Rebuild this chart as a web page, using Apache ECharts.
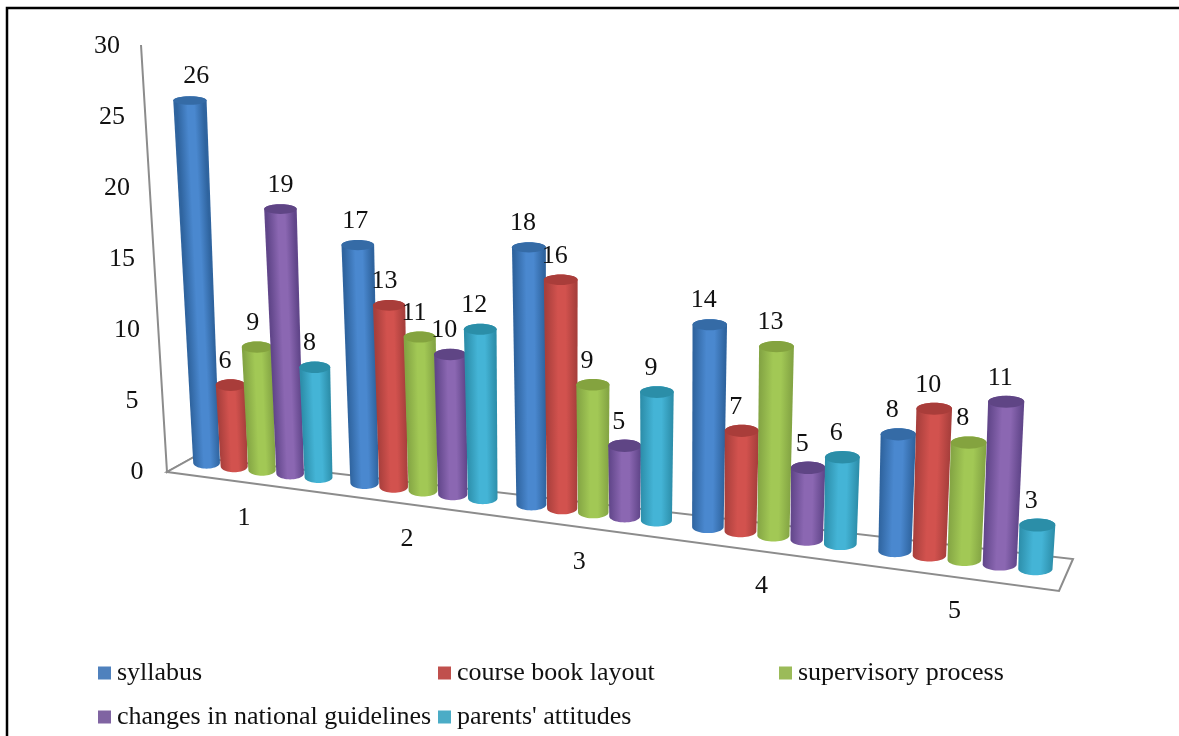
<!DOCTYPE html>
<html>
<head>
<meta charset="utf-8">
<title>Chart</title>
<script src="https://cdn.jsdelivr.net/npm/echarts@6/dist/echarts.min.js"></script>
<style>
html, body { margin: 0; padding: 0; background: #fff; }
#main { width: 1179px; height: 736px; }
</style>
</head>
<body>
<div id="main"></div>
<script>
const categories = ['1', '2', '3', '4', '5']
const tickLabels = [0, 5, 10, 15, 20, 25, 30]
const seriesNames = ['syllabus', 'course book layout', 'supervisory process', 'changes in national guidelines', "parents' attitudes"]
const syllabus = [26, 17, 18, 14, 8]
const courseBook = [6, 13, 16, 7, 10]
const supervisory = [9, 11, 9, 13, 8]
const guidelines = [19, 10, 5, 5, 11]
const parents = [8, 12, 9, 6, 3]
const seriesValues = [syllabus, courseBook, supervisory, guidelines, parents]

// [edge, highlight, cap]
const palette = [
    ['#2f649f', '#4a88cf', '#356ba6'],
    ['#a83f3c', '#d2524e', '#a93d3a'],
    ['#84a544', '#a2c855', '#84a33f'],
    ['#61468a', '#8b67b2', '#5f4585'],
    ['#2d8fab', '#44b4d6', '#2b8ea8']
]
const legendColors = ['#4f81bd', '#c0504d', '#9bbb59', '#8064a2', '#4bacc6']

const FONT = '"Liberation Serif", serif'
const PERSP = 0.0265      // how fast things grow towards the right
const SLOTS = 5.6         // bar slots in one category
const AXIS_COLOR = '#8c8c8c'

// flat grid position -> picture position (the chart is a tilted 3D view)
function project(flatX, flatBase, flatTop, grid) {
    const band = grid.width / categories.length
    const u = (flatX - grid.x) / band
    const x = grid.x + (flatX - grid.x) / (1 - PERSP * u)
    const y = 463 + 0.128 * (x - 208)
    const v = (flatBase - flatTop) / (grid.height / 30)
    const height = (flatBase - flatTop) * (1 + 0.0191 * u) * (0.98 + 0.0016 * v)
    const lean = 0.00155 * (x - 620)
    return { u, v, x, y, topX: x + lean * v, topY: y - height }
}

function ellipsePts(cx, cy, rx, ry, from, to) {
    const pts = []
    for (let i = 0; i <= 24; i++) {
        const a = from + (to - from) * i / 24
        pts.push([cx + rx * Math.cos(a), cy + ry * Math.sin(a)])
    }
    return pts
}

function cylinder(j) {
    return function (params, api) {
        const grid = params.coordSys
        const i = api.value(0)
        const value = api.value(1)
        const band = api.size([1, 0])[0]
        const c = api.coord([i, value])
        const c0 = api.coord([i, 0])
        const p = project(c[0] + (j - 2) / SLOTS * band, c0[1], c[1], grid)

        const w0 = 26.5 + 1.6 * p.u
        const w1 = w0 + 1.5 + value * (0.2 - 0.03 * p.u)
        const ry0 = 5.8 + 0.1 * p.u
        const ry1 = ry0 + 0.5 - 0.08 * value

        const body = ellipsePts(p.x, p.y, w0 / 2, ry0, 0, Math.PI)
            .concat(ellipsePts(p.topX, p.topY, w1 / 2, ry1, Math.PI, 2 * Math.PI))
        const col = palette[j]
        const fill = new echarts.graphic.LinearGradient(
            p.x - w0 / 2, p.y, p.x + w0 / 2, p.y + w0 * (p.topX - p.x) / (p.y - p.topY),
            [
                { offset: 0, color: col[0] },
                { offset: 0.4, color: col[1] },
                { offset: 0.65, color: col[1] },
                { offset: 1, color: col[0] }
            ],
            true
        )
        const labelX = p.topX - 6 + Math.max(0, p.x - p.topX - 3) * 0.9
        return {
            type: 'group',
            children: [
                { type: 'polygon', shape: { points: body }, style: { fill: fill } },
                { type: 'ellipse', shape: { cx: p.topX, cy: p.topY, rx: w1 / 2, ry: ry1 }, style: { fill: col[2] } },
                {
                    type: 'text',
                    z2: 100,
                    style: {
                        x: labelX, y: p.topY - 24, text: String(value),
                        fill: '#111', font: '26px ' + FONT, align: 'center', verticalAlign: 'middle'
                    }
                }
            ]
        }
    }
}

// walls: y axis line, floor outline, tick labels
function frame(params, api) {
    const grid = params.coordSys
    const zero = api.coord([0, 0])[1]
    const children = [
        {
            type: 'polyline',
            shape: { points: [[141, 45], [167, 472], [194, 457]] },
            style: { stroke: AXIS_COLOR, lineWidth: 2, fill: null }
        },
        {
            type: 'polygon',
            shape: { points: [[167, 472], [1059, 591], [1073, 559], [194, 457]] },
            style: { stroke: AXIS_COLOR, lineWidth: 2, fill: '#fff' }
        }
    ]
    tickLabels.forEach(function (v) {
        const dy = (zero - api.coord([0, v])[1]) * 1.044
        children.push({
            type: 'text',
            style: {
                x: 137 - v, y: 472 - dy, text: String(v),
                fill: '#111', font: '26px ' + FONT, align: 'center', verticalAlign: 'middle'
            }
        })
    })
    categories.forEach(function (name, i) {
        const p = project(api.coord([i, 0])[0], zero, zero, grid)
        children.push({
            type: 'text',
            style: {
                x: p.x - 18 + 2 * i, y: 472 + 0.1334 * (p.x - 167) + 33, text: name,
                fill: '#111', font: '26px ' + FONT, align: 'center', verticalAlign: 'middle'
            }
        })
    })
    return { type: 'group', children: children }
}

const legendSpots = [
    { left: 98, top: 660 },
    { left: 438, top: 660 },
    { left: 779, top: 660 },
    { left: 98, top: 704 },
    { left: 438, top: 704 }
]

const chart = echarts.init(document.getElementById('main'))
chart.setOption({
    animation: false,
    backgroundColor: '#fff',
    grid: { left: 184.7, top: 57, width: 763, height: 408 },
    xAxis: { type: 'category', data: categories, show: false },
    yAxis: { type: 'value', min: 0, max: 30, interval: 5, show: false },
    graphic: [{
        // the outer box is cut off on the right and at the bottom
        type: 'polyline',
        shape: { points: [[7, 736], [7, 8], [1179, 8]] },
        style: { stroke: '#000', lineWidth: 2.5, fill: null },
        silent: true
    }],
    legend: seriesNames.map(function (name, j) {
        return {
            data: [name],
            left: legendSpots[j].left,
            top: legendSpots[j].top,
            icon: 'rect',
            itemWidth: 13,
            itemHeight: 13,
            padding: 0,
            selectedMode: false,
            textStyle: { fontFamily: FONT, fontSize: 26, color: '#111', padding: [0, 0, 0, 1] }
        }
    }),
    series: [{
        type: 'custom',
        name: 'frame',
        silent: true,
        renderItem: frame,
        data: [[0, 0]],
        z: 1
    }].concat(seriesNames.map(function (name, j) {
        return {
            type: 'custom',
            name: name,
            silent: true,
            color: legendColors[j],
            itemStyle: { color: legendColors[j] },
            renderItem: cylinder(j),
            encode: { x: 0, y: 1 },
            data: seriesValues[j].map(function (v, i) { return [i, v] }),
            z: 2 + j
        }
    }))
})
</script>
</body>
</html>
